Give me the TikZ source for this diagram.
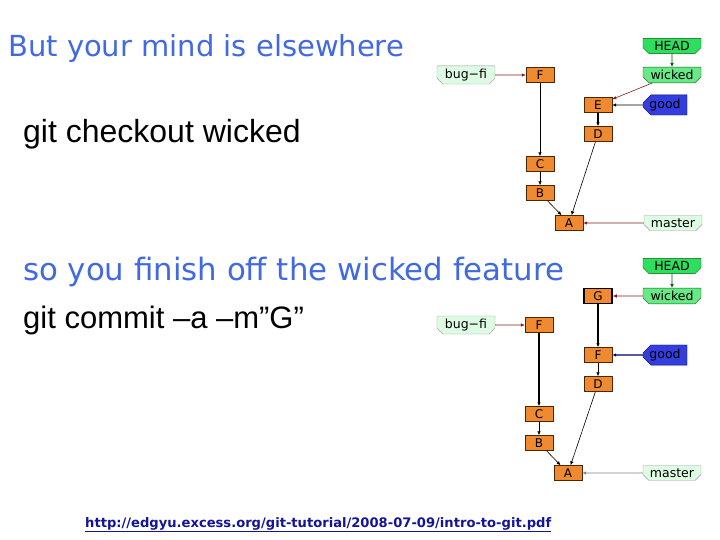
\documentclass[tikz,border=0pt]{standalone}
\usepackage{fontspec}
\setmainfont{Liberation Sans}
\newfontfamily\comicfont{DejaVu Sans}
\newfontfamily\labelfont{DejaVu Sans}
\usepackage{tikz}
\usetikzlibrary{arrows.meta, shapes.misc}

\definecolor{commitorange}{RGB}{240,138,48}
\definecolor{headgreen}{RGB}{45,222,95}
\definecolor{branchgreen}{RGB}{105,232,135}
\definecolor{palegreen}{RGB}{222,252,228}
\definecolor{goodblue}{RGB}{52,62,222}
\definecolor{titleblue}{RGB}{65,105,225}
\definecolor{linkblue}{RGB}{20,20,150}
\definecolor{refred}{RGB}{125,30,30}

\begin{document}
\begin{tikzpicture}[
                x=1pt, y=-1pt,
                >={Latex[length=4pt,width=3.5pt]},
                commit/.style={draw=black!70!orange, fill=commitorange, rectangle, minimum width=28pt, minimum height=15pt, inner sep=0pt, font=\labelfont\fontsize{12}{12}\selectfont},
                headref/.style={draw=black!60!green, fill=headgreen, chamfered rectangle, chamfered rectangle corners={south west,south east}, chamfered rectangle xsep=3pt, chamfered rectangle ysep=3pt, minimum width=58pt, minimum height=14pt, inner sep=0pt, font=\labelfont\fontsize{12.5}{12.5}\selectfont},
                branch/.style={headref, fill=branchgreen},
                oldbranch/.style={headref, draw=black!40, fill=palegreen},
                tagref/.style={draw=black!60!blue, fill=goodblue, chamfered rectangle, chamfered rectangle corners={north west,south west}, chamfered rectangle xsep=4pt, chamfered rectangle ysep=4pt, minimum width=44pt, minimum height=14pt, inner sep=0pt, font=\labelfont\fontsize{12.5}{12.5}\selectfont},
                edge/.style={->, line width=0.6pt},
                slide/.style={anchor=base west, inner sep=0pt}
            ]
            \useasboundingbox (0,0) rectangle (720,540);
            
            % Slide texts
            \node[slide, text=titleblue, font=\comicfont\fontsize{29}{29}\selectfont] (title) at (8,57) {But your mind is elsewhere};
            \node[slide, font=\fontsize{32}{32}\selectfont] (checkout) at (23,143) {git checkout wicked};
            \node[slide, text=titleblue, font=\comicfont\fontsize{30.8}{30.8}\selectfont] (finish) at (23,280) {so you finish off the wicked feature};
            \node[slide, font=\fontsize{31}{31}\selectfont] (commitcmd) at (23,328) {git commit –a –m”G”};
            \node[slide, text=linkblue, font=\labelfont\bfseries\fontsize{13.1}{13.1}\selectfont] (link) at (85,527) {\underline{http://edgyu.excess.org/git-tutorial/2008-07-09/intro-to-git.pdf}};
            
            % Upper graph
            \node[headref] (head1) at (672,46) {HEAD};
            \node[branch] (wicked1) at (672,75) {wicked};
            \node[oldbranch] (bugfi1) at (466,75) {bug{\textminus}fi};
            \node[tagref] (good1) at (665,105) {good};
            \node[oldbranch] (master1) at (673,223) {master};
            \node[commit] (f1) at (540,75) {F};
            \node[commit] (e1) at (598,105) {E};
            \node[commit] (d1) at (598,134) {D};
            \node[commit] (c1) at (540,164) {C};
            \node[commit] (b1) at (540,193) {B};
            \node[commit] (a1) at (569,223) {A};
            
            \draw[edge, green!35!black] (head1) -- (wicked1);
            \draw[edge, refred] (wicked1) -- (e1);
            \draw[edge] (good1) -- (e1);
            \draw[edge, refred] (bugfi1) -- (f1);
            \draw[edge, refred] (master1) -- (a1);
            \draw[->, line width=1.4pt] (e1) -- (d1);
            \draw[edge] (d1) -- (a1);
            \draw[edge] (f1) -- (c1);
            \draw[edge] (c1) -- (b1);
            \draw[edge] (b1) -- (a1);
            
            % Lower graph
            \node[headref] (head2) at (672,266) {HEAD};
            \node[branch] (wicked2) at (672,296) {wicked};
            \node[oldbranch] (bugfi2) at (466,325) {bug{\textminus}fi};
            \node[tagref] (good2) at (665,355) {good};
            \node[oldbranch] (master2) at (672,473) {master};
            \node[commit, draw=black, line width=1.5pt] (g2) at (598,296) {G};
            \node[commit] (f2) at (539,325) {F};
            \node[commit] (e2) at (598,355) {F};
            \node[commit] (d2) at (598,384) {D};
            \node[commit] (c2) at (539,414) {C};
            \node[commit] (b2) at (539,443) {B};
            \node[commit] (a2) at (568,473) {A};
            
            \draw[edge, green!35!black] (head2) -- (wicked2);
            \draw[edge, refred] (wicked2) -- (g2);
            \draw[->, line width=1.4pt, blue!40!black] (good2) -- (e2);
            \draw[edge, refred] (bugfi2) -- (f2);
            \draw[edge, gray] (master2) -- (a2);
            \draw[->, line width=1.4pt] (g2) -- (e2);
            \draw[edge] (e2) -- (d2);
            \draw[edge] (d2) -- (a2);
            \draw[->, line width=1.4pt] (f2) -- (c2);
            \draw[edge] (c2) -- (b2);
            \draw[edge] (b2) -- (a2);
            \end{tikzpicture}
\end{document}
